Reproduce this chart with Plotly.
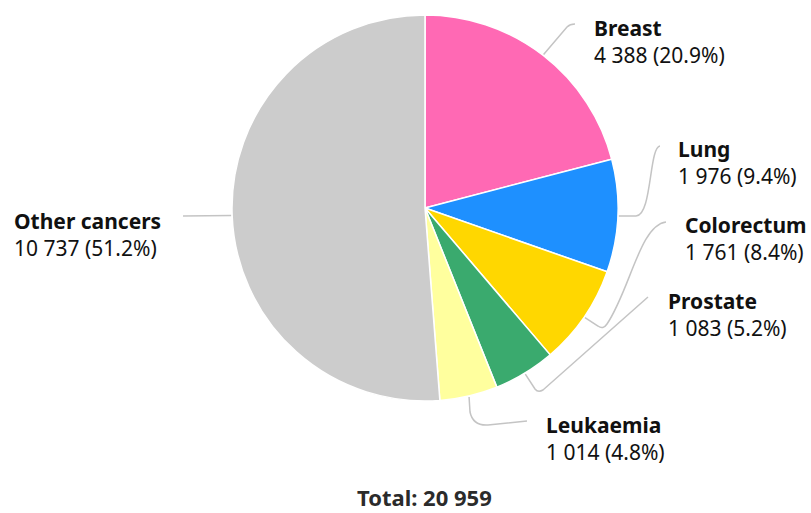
import math

import plotly.graph_objects as go

# Data
categories = ["Breast", "Lung", "Colorectum", "Prostate", "Leukaemia", "Other cancers"]
cases = [4388, 1976, 1761, 1083, 1014, 10737]
colors = ["#FF69B4", "#1E90FF", "#FFD700", "#3AAA6E", "#FFFF9E", "#CCCCCC"]

# Layout (pixels)
W, H = 811, 513
CX, CY, R = 425, 208, 193
FONT = "Noto Sans"

# label block: left x, block centre y
label_pos = [
    (595, 41),
    (679, 163),
    (686, 239),
    (669, 314),
    (547, 438),
    (15, 234),
]

# connector shape after its start point on the slice edge
connector_tail = [
    [("L", 567, 27), ("Q", 570, 24, 575, 24)],
    [("L", 636, 216), ("C", 652, 216, 649, 147, 660, 146)],
    [("L", 598, 326), ("Q", 603, 330, 607, 324), ("C", 630, 290, 640, 225, 666, 222)],
    [("L", 535, 389), ("Q", 538, 393, 543, 390), ("L", 648, 297)],
    [("L", 470, 412), ("Q", 473, 426, 488, 425), ("L", 527, 421)],
    [("L", 183, 216)],
]


def px(x, y):
    return f"{x / W:.5f},{1 - y / H:.5f}"


def fmt(n):
    return f"{n:,}".replace(",", " ")


total = sum(cases)

fig = go.Figure()
fig.add_trace(go.Pie(
    labels=categories,
    values=cases,
    sort=False,
    direction="clockwise",
    rotation=0,
    marker=dict(colors=colors, line=dict(color="white", width=1.5)),
    textinfo="none",
    hoverinfo="label+value+percent",
    showlegend=False,
    domain=dict(
        x=[(CX - R) / W, (CX + R) / W],
        y=[1 - (CY + R) / H, 1 - (CY - R) / H],
    ),
))

# connectors and labels
cum = 0
for i, (name, v) in enumerate(zip(categories, cases)):
    mid = (cum + v / 2) / total * 2 * math.pi
    cum += v
    sx = CX + (R + 1) * math.sin(mid)
    sy = CY - (R + 1) * math.cos(mid)
    path = "M" + px(sx, sy)
    for seg in connector_tail[i]:
        cmd, pts = seg[0], seg[1:]
        path += " " + cmd + " ".join(px(pts[k], pts[k + 1]) for k in range(0, len(pts), 2))
    fig.add_shape(type="path", path=path, xref="paper", yref="paper",
                  line=dict(color="#C4C4C4", width=1.5))

    lx, ly = label_pos[i]
    pct = v / total * 100
    fig.add_annotation(
        x=(lx - 2) / W, y=1 - ly / H, xref="paper", yref="paper",
        xanchor="left", yanchor="middle", align="left", showarrow=False,
        borderpad=0,
        text=f"<b>{name}</b><br>{fmt(v)} ({pct:.1f}%)",
        font=dict(family=FONT, size=21, color="#111111"),
    )

fig.add_annotation(
    x=CX / W, y=0, xref="paper", yref="paper",
    xanchor="center", yanchor="bottom", showarrow=False,
    borderpad=0,
    text=f"<b>Total: {fmt(total)}</b>",
    font=dict(family=FONT, size=22, color="#2B2B2B"),
)

fig.update_layout(
    width=W, height=H,
    margin=dict(l=0, r=0, t=0, b=0),
    paper_bgcolor="white",
    plot_bgcolor="white",
    font=dict(family=FONT),
)

# drop the browser's default body margin so the figure sits at the page origin
fig.write_html(
    "out.html",
    config={"displayModeBar": False},
    post_script="document.body.style.margin = '0';",
)
